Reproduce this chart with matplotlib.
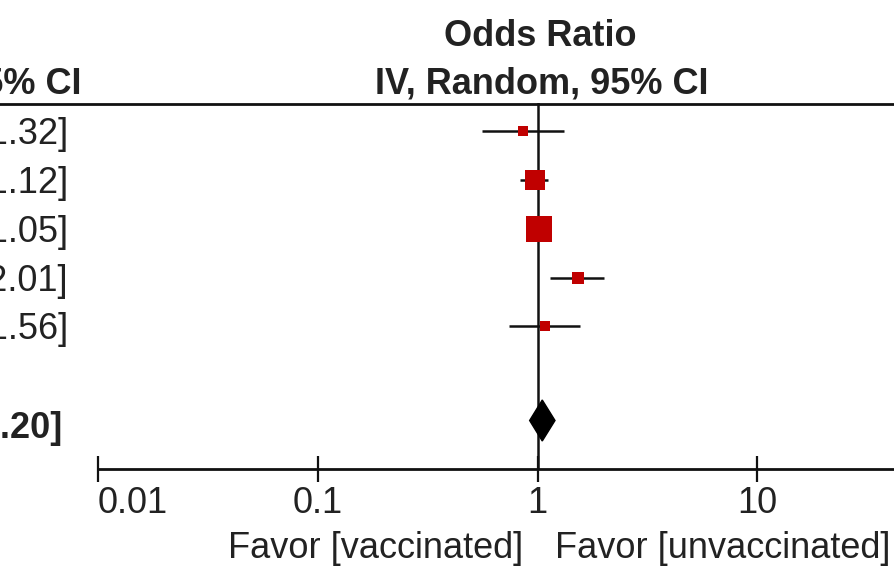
import numpy as np
import matplotlib
matplotlib.use("Agg")
import matplotlib.pyplot as plt
from matplotlib.lines import Line2D
from matplotlib.patches import Polygon

plt.rcParams["font.family"] = ["Liberation Sans", "DejaVu Sans"]

W, H = 895, 568

# study rows (odds ratio with 95% CI) and weights (%)
odds_ratio = [0.86, 0.97, 1.01, 1.52, 1.08]
ci_low = [0.56, 0.83, 0.97, 1.14, 0.74]
ci_high = [1.32, 1.12, 1.05, 2.01, 1.56]
weights = [6.3, 27.9, 47.1, 11.8, 7.7]

# pooled estimate
total_or = 1.05
total_low = 0.92
total_high = 1.20

tick_values = [0.01, 0.1, 1, 10]
tick_labels = ["0.01", "0.1", "1", "10"]

TEXT = "#222222"
BOX = "#c00000"

row_y = [131, 180, 229, 278, 326]
total_y = 420.5


def fx(px):
    return px / W


def fy(py):
    return 1 - py / H


fig = plt.figure(figsize=(W / 100, H / 100), dpi=100)

# forest axes: 0.01 .. 100 over 4 decades, right part falls off the canvas
ax_left, ax_right = 98, 98 + 4 * 219.8
ax_top, ax_bottom = 103, 469
ax = fig.add_axes([fx(ax_left), fy(ax_bottom), (ax_right - ax_left) / W, (ax_bottom - ax_top) / H])
ax.set_xscale("log")
ax.set_xlim(0.01, 100)
ax.set_ylim(ax_bottom, ax_top)

for s in ["top", "left", "right"]:
    ax.spines[s].set_visible(False)
ax.spines["bottom"].set_linewidth(2)
ax.spines["bottom"].set_color("#111111")
ax.set_yticks([])
ax.set_xticks(tick_values)
ax.set_xticklabels(tick_labels)
ax.minorticks_off()
ax.tick_params(axis="x", direction="inout", length=19, width=1.6, pad=3,
               labelsize=26, labelcolor=TEXT, color="#111111")
ax.get_xticklabels()[0].set_horizontalalignment("left")

ax.axvline(1, color="#111111", lw=1.8, zorder=1)

for y, o, lo, hi, w in zip(row_y, odds_ratio, ci_low, ci_high, weights):
    ax.plot([lo, hi], [y, y], color="#111111", lw=1.8, zorder=2, solid_capstyle="butt")
    ax.plot([o], [y], marker="s", markersize=2.72 * np.sqrt(w), color=BOX,
            markeredgewidth=0, zorder=3)

half_h = 20.5
diamond = Polygon([[total_low, total_y], [total_or, total_y - half_h],
                   [total_high, total_y], [total_or, total_y + half_h]],
                  closed=True, facecolor="black", edgecolor="black", zorder=4)
ax.add_patch(diamond)

# header rule across the whole width
fig.add_artist(Line2D([0, 1], [fy(103.5), fy(103.5)], color="#111111", lw=2))

# headers
fig.text(fx(540), fy(46), "Odds Ratio", ha="center", va="baseline",
         fontsize=26, fontweight="bold", color=TEXT)
fig.text(fx(542), fy(93), "IV, Random, 95% CI", ha="center", va="baseline",
         fontsize=26, fontweight="bold", color=TEXT)
fig.text(fx(82), fy(93), "IV, Random, 95% CI", ha="right", va="baseline",
         fontsize=26, fontweight="bold", color=TEXT)

# CI column (mostly off the left edge)
for y, o, lo, hi in zip(row_y, odds_ratio, ci_low, ci_high):
    fig.text(fx(68), fy(y + 13), f"{o:.2f} [{lo:.2f}, {hi:.2f}]", ha="right",
             va="baseline", fontsize=26, color=TEXT)
fig.text(fx(62), fy(total_y + 17), f"{total_or:.2f} [{total_low:.2f}, {total_high:.2f}]",
         ha="right", va="baseline", fontsize=26, fontweight="bold", color=TEXT)

# favour labels
fig.text(fx(523), fy(558), "Favor [vaccinated]", ha="right", va="baseline",
         fontsize=26, color=TEXT)
fig.text(fx(555), fy(558), "Favor [unvaccinated]", ha="left", va="baseline",
         fontsize=26, color=TEXT)

fig.savefig("out.png", dpi=100)
